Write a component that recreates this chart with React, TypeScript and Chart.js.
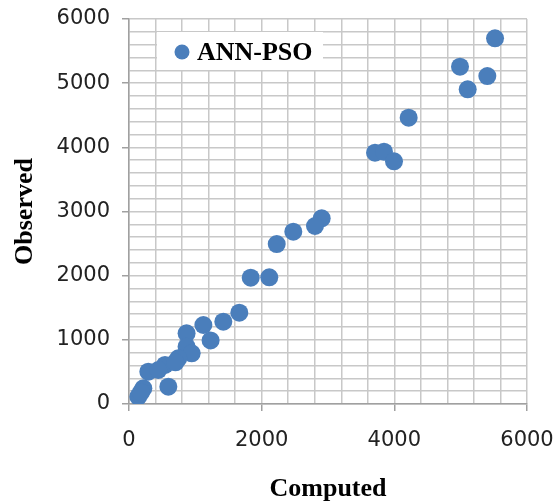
import React, { useEffect, useRef } from "react";
import { Chart, registerables } from "chart.js";

Chart.register(...registerables);

const seriesLabel = "ANN-PSO";
const computed = [
  5518, 4990, 5402, 5106, 4216, 3709, 3844, 3995, 2905, 2804, 2477, 2227, 1835, 2115,
  1663, 1422, 1121, 1230, 868, 868, 945, 743, 543, 291, 593, 216, 140, 442, 700, 180,
];
const observed = [
  5699, 5257, 5111, 4904, 4462, 3917, 3932, 3782, 2894, 2774, 2685, 2493, 1968, 1974,
  1423, 1283, 1231, 990, 1101, 893, 790, 712, 608, 503, 270, 245, 114, 530, 650, 180,
];
const xTitle = "Computed";
const yTitle = "Observed";
const axisMin = 0;
const axisMax = 6000;
const xMinorStep = 400;
const xMajorStep = 2000;
const yMinorStep = 200;
const yMajorStep = 1000;

const markerColor = "#4a7ebb";
const gridColor = "#c8c8c8";
const axisColor = "#a0a0a0";

const legendPlugin = {
  id: "boxLegend",
  afterDraw(chart: any) {
    const { ctx, chartArea } = chart;
    const ds = chart.data.datasets[0];
    const bx = chartArea.left + 28;
    const by = chartArea.top + 13;
    ctx.save();
    ctx.fillStyle = "#ffffff";
    ctx.fillRect(bx, by, 166, 38);
    ctx.fillStyle = markerColor;
    ctx.beginPath();
    ctx.arc(bx + 25, by + 20, 7.5, 0, Math.PI * 2);
    ctx.fill();
    ctx.fillStyle = "#000000";
    ctx.font = "bold 26px 'Liberation Serif'";
    ctx.textBaseline = "middle";
    ctx.textAlign = "left";
    ctx.fillText(ds.label, bx + 40, by + 21);
    ctx.restore();
  },
};

function zeroPad(s: any) {
  s.paddingTop = 0;
  s.paddingBottom = 0;
  s.paddingLeft = 0;
  s.paddingRight = 0;
}

export default function App() {
  const canvasRef = useRef<HTMLCanvasElement | null>(null);
  const noteRef = useRef<HTMLSpanElement | null>(null);

  useEffect(() => {
    const canvas = canvasRef.current;
    if (!canvas) return;
    const points = computed.map((x, i) => ({ x, y: observed[i] }));
    const chart = new Chart(canvas, {
      type: "scatter",
      data: {
        datasets: [
          {
            label: seriesLabel,
            data: points,
            backgroundColor: markerColor,
            borderWidth: 0,
            pointRadius: 9,
            pointHoverRadius: 9,
          },
        ],
      },
      options: {
        responsive: false,
        animation: false,
        layout: { padding: { top: 19, right: 30, left: 0, bottom: 0 } },
        plugins: {
          legend: { display: false },
          tooltip: { enabled: false },
        },
        scales: {
          x: {
            type: "linear",
            min: axisMin,
            max: axisMax,
            afterFit: (s: any) => {
              s.height = 99;
              zeroPad(s);
            },
            ticks: {
              stepSize: xMinorStep,
              autoSkip: false,
              maxRotation: 0,
              color: "#222",
              font: { family: "'DejaVu Sans'", size: 21 },
              padding: 17,
              callback: (v: any) => (Number(v) % xMajorStep === 0 ? String(v) : ""),
            },
            grid: {
              color: gridColor,
              lineWidth: 1.5,
              tickLength: 7,
              tickColor: (c: any) =>
                c.tick && c.tick.value % xMajorStep === 0 ? axisColor : "rgba(0,0,0,0)",
            },
            border: { color: axisColor, width: 1.5 },
            title: {
              display: true,
              text: xTitle,
              color: "#000",
              font: { family: "'Liberation Serif'", size: 26, weight: "bold", lineHeight: 1 },
              padding: { top: 0, bottom: 1 },
            },
          },
          y: {
            type: "linear",
            min: axisMin,
            max: axisMax,
            afterFit: (s: any) => {
              s.width = 129;
              zeroPad(s);
            },
            ticks: {
              stepSize: yMinorStep,
              autoSkip: false,
              color: "#222",
              font: { family: "'DejaVu Sans'", size: 21 },
              padding: 12,
              callback: (v: any) => (Number(v) % yMajorStep === 0 ? String(v) : ""),
            },
            grid: {
              color: gridColor,
              lineWidth: 1.5,
              tickLength: 7,
              tickColor: (c: any) =>
                c.tick && c.tick.value % yMajorStep === 0 ? axisColor : "rgba(0,0,0,0)",
            },
            border: { color: axisColor, width: 1.5 },
            title: {
              display: true,
              text: yTitle,
              color: "#000",
              font: { family: "'Liberation Serif'", size: 26, weight: "bold", lineHeight: 1 },
              padding: { top: 12, bottom: 0 },
            },
          },
        },
      },
      plugins: [legendPlugin],
    });
    canvas.setAttribute("aria-label", `${yTitle} vs ${xTitle} (${seriesLabel})`);
    if (noteRef.current) noteRef.current.textContent = " ";
    return () => chart.destroy();
  }, []);

  return (
    <div style={{ position: "absolute", left: 0, top: 0, width: 557, height: 503, background: "#fff" }}>
      <canvas ref={canvasRef} role="img" width={557} height={503} style={{ width: 557, height: 503 }} />
      <span ref={noteRef} style={{ position: "absolute", left: 0, top: 0, width: 1, height: 1, overflow: "hidden" }} />
    </div>
  );
}
